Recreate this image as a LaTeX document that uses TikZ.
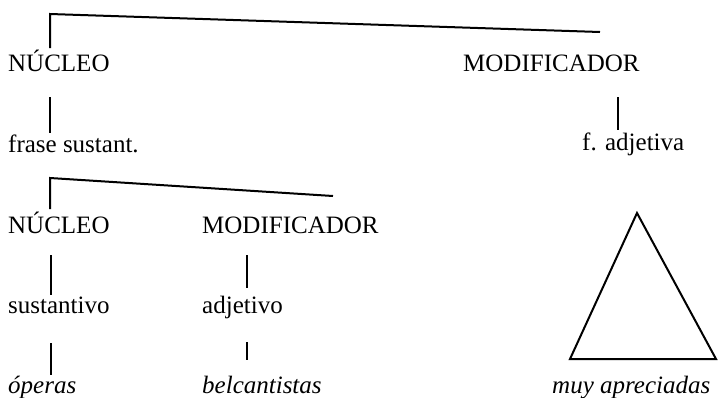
\documentclass[tikz,border=0pt]{standalone}
\usepackage{fontspec}
\setmainfont{Liberation Serif}
\begin{document}
\begin{tikzpicture}[x=1pt,y=-1pt,
  lbl/.style={anchor=base west, inner sep=0pt, font=\fontsize{25}{29}\selectfont},
  ilbl/.style={lbl, font=\fontsize{25}{29}\selectfont\itshape},
  ln/.style={line width=2pt, line cap=butt}]
\useasboundingbox (0,0) rectangle (718,397);
% labels
\node[lbl] (nuc1) at (8,71) {NÚCLEO};
\node[lbl] (mod1) at (463,71) {MODIFICADOR};
\node[lbl] (fs) at (8,152) {frase sustant.};
\node[lbl] (fa) at (582,150) {f. adjetiva};
\node[lbl] (nuc2) at (8,233) {NÚCLEO};
\node[lbl] (mod2) at (202,233) {MODIFICADOR};
\node[lbl] (sus) at (8,313) {sustantivo};
\node[lbl] (adj) at (202,313) {adjetivo};
\node[ilbl] (op) at (8,393) {óperas};
\node[ilbl] (bel) at (202,393) {belcantistas};
\node[ilbl] (muy) at (552,393) {muy apreciadas};
% connector points
\coordinate (t1a) at (50,14);
\coordinate (t1b) at (600,32);
\coordinate (t1c) at (50,48);
\coordinate (v1a) at (50,97);
\coordinate (v1b) at (50,133);
\coordinate (v2a) at (618,97);
\coordinate (v2b) at (618,130);
\coordinate (t2a) at (50,178);
\coordinate (t2b) at (333,196);
\coordinate (t2c) at (50,209);
\coordinate (v3a) at (51,255);
\coordinate (v3b) at (51,295);
\coordinate (v4a) at (247,255);
\coordinate (v4b) at (247,288);
\coordinate (v5a) at (51,343);
\coordinate (v5b) at (51,375);
\coordinate (v6a) at (247,342);
\coordinate (v6b) at (247,360);
\coordinate (tra) at (637,213);
\coordinate (trl) at (570,359);
\coordinate (trr) at (716,359);
% connectors
\draw[ln, line join=miter] (t1b) -- (t1a) -- (t1c);
\draw[ln] (v1a) -- (v1b);
\draw[ln] (v2a) -- (v2b);
\draw[ln, line join=miter] (t2b) -- (t2a) -- (t2c);
\draw[ln] (v3a) -- (v3b);
\draw[ln] (v4a) -- (v4b);
\draw[ln] (v5a) -- (v5b);
\draw[ln] (v6a) -- (v6b);
\draw[ln, line join=miter] (tra) -- (trl) -- (trr) -- cycle;
\end{tikzpicture}
\end{document}
